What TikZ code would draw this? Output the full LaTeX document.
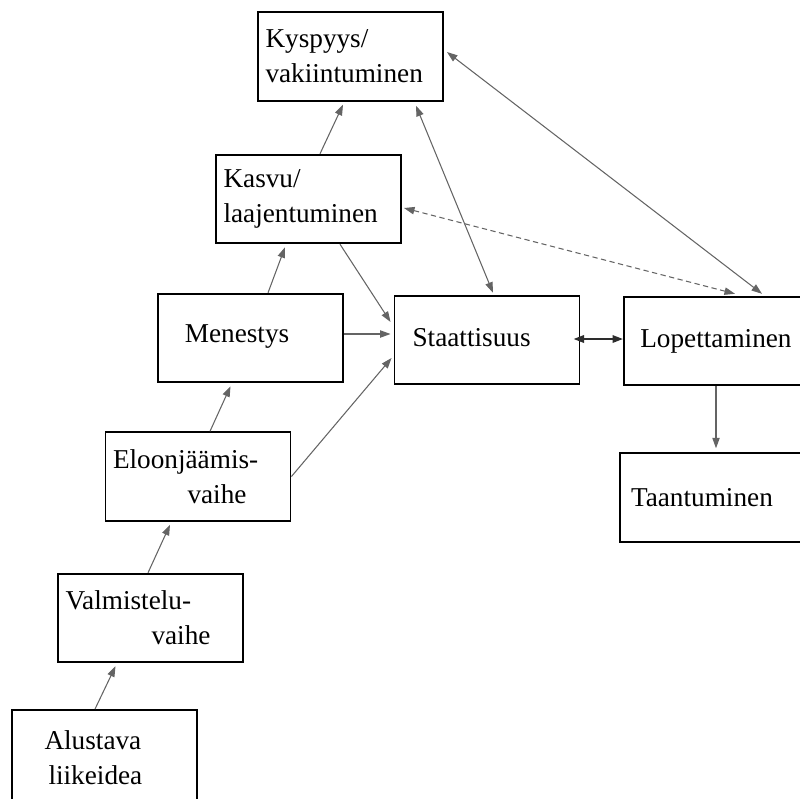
\documentclass[tikz,border=0pt]{standalone}
\usepackage{fontspec}
\setmainfont{Liberation Serif}
\usetikzlibrary{positioning, calc, arrows.meta}
\definecolor{linegray}{RGB}{100,100,100}
\definecolor{linedark}{RGB}{45,45,45}

\begin{document}
\begin{tikzpicture}[x=0.02cm, y=-0.02cm,
        stage/.style={draw, line width=1.1pt, minimum height=1.77cm, inner xsep=0.15cm,
            text width=3.4cm, font=\fontsize{15.5}{20}\selectfont},
        flow/.style={draw=linegray, line width=0.6pt, -{Triangle[length=6pt,width=4.2pt]}},
        both/.style={flow, {Triangle[length=6pt,width=4.2pt]}-{Triangle[length=6pt,width=4.2pt]}}]
        \clip (0,0) rectangle (800,798);

        % stages
        \node[stage, align=left] (kys) at (350.5,56.5) {Kyspyys/\\vakiintuminen};
        \node[stage, align=left] (kasvu) at (308.5,199) {Kasvu/\\laajentuminen};
        \node[stage, align=left] (men) at (250.5,338) {\hspace*{11pt}\raisebox{4.5pt}{Menestys}};
        \node[stage, align=left] (sta) at (487,340) {\hspace*{6pt}\raisebox{3pt}{Staattisuus}};
        \node[stage, align=left, text width=3.7cm] (lop) at (724,341) {\hspace*{5pt}Lopettaminen};
        \node[stage, align=left, text width=3.7cm] (taan) at (720,497.5) {\hspace*{2pt}Taantuminen};
        \node[stage, align=left] (elo) at (198,476.5) {Eloonjäämis-\\\hspace*{1.49cm}vaihe};
        \node[stage, align=left] (val) at (150.5,618) {Valmistelu-\\\hspace*{1.72cm}vaihe};
        \node[stage, align=left, minimum height=1.9cm] (alu) at (104.5,757.5)
            {\hspace*{0.5cm}Alustava\\\hspace*{0.58cm}liikeidea};

        % upward chain
        \foreach \a/\b/\da/\db in {alu/val/-9.5/-35, val/elo/-2.5/-28, elo/men/12/-20,
                men/kasvu/17.5/-23.5, kasvu/kys/11.5/-7.5} {
            \draw[flow] ($(\a.north)+(\da,0)$) -- ($(\b.south)+(\db,3)$);
        }

        % into staattisuus
        \draw[flow] (elo.east) -- ($(sta.west)+(-2,18)$);
        \draw[flow] ($(men.east)+(0,-4)$) -- ($(men.east -| sta.west)+(-3,-4)$);
        \draw[flow] ($(kasvu.south)+(31.5,0)$) -- ($(sta.west)+(-3,-18)$);

        % two-way links
        \draw[both] ($(sta.north)+(6,-2)$) -- ($(kys.south)+(65.5,4)$);
        \draw[both] ($(kys.east)+(3,-4.5)$) -- ($(lop.north)+(38,-2)$);
        \draw[both, dash pattern=on 3pt off 2pt] ($(kasvu.east)+(2,9)$) -- ($(lop.north)+(11,-2)$);
        \draw[both, draw=linedark, line width=1.2pt] ($(sta.east)+(-7,-1)$) -- ($(lop.west)+(0,-2)$);

        \draw[flow] ($(lop.south)+(-8,0)$) -- ($(taan.north)+(-4,-4)$);
\end{tikzpicture}
\end{document}
